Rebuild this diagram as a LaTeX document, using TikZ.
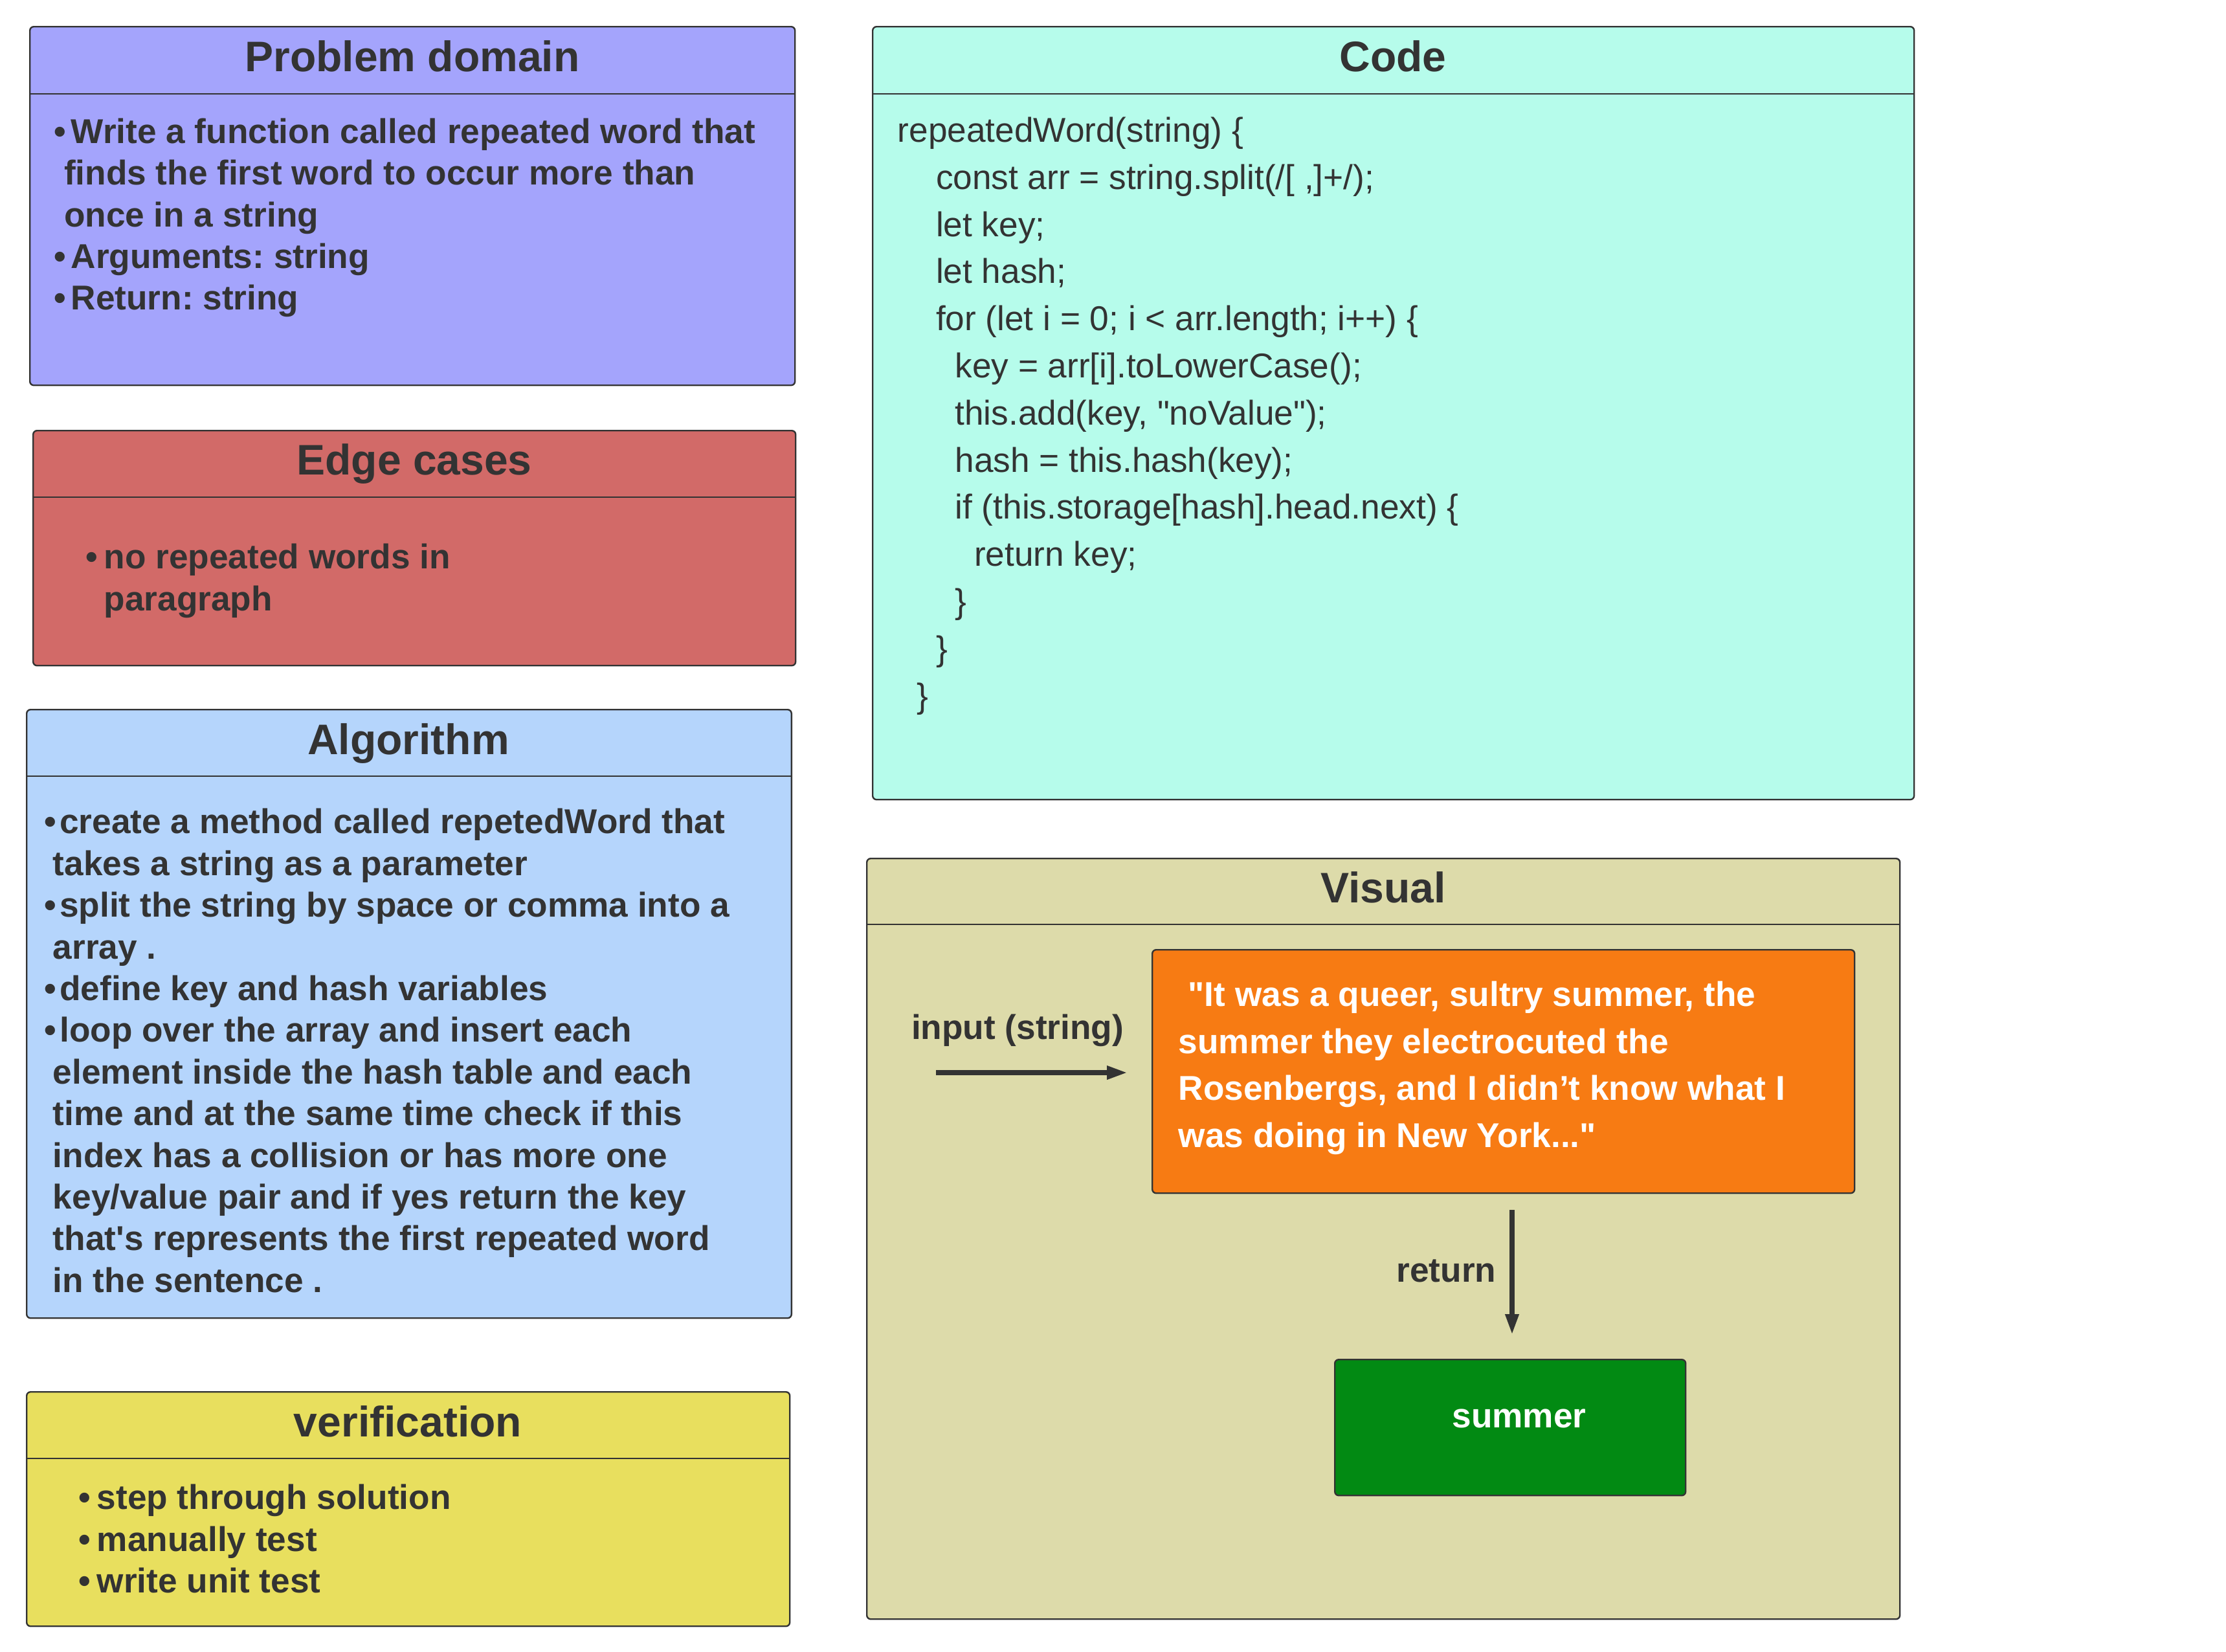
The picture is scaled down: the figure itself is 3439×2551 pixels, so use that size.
\documentclass[tikz,border=0pt]{standalone}
\usepackage{fontspec}
\newfontfamily\lsans{Liberation Sans}
\usetikzlibrary{arrows.meta}
\definecolor{pdfill}{HTML}{A4A4FC}
\definecolor{edfill}{HTML}{D26A68}
\definecolor{alfill}{HTML}{B5D5FC}
\definecolor{vefill}{HTML}{E8DF5E}
\definecolor{cofill}{HTML}{B6FCEB}
\definecolor{vifill}{HTML}{DDDBAA}
\definecolor{orfill}{HTML}{F77B13}
\definecolor{grfill}{HTML}{028A13}
\definecolor{txtc}{HTML}{333333}
\definecolor{linec}{HTML}{333333}
\newcommand\mybul[1][6.5pt]{\makebox[#1][l]{\textbullet}}
\newcommand\mycont[1][3.8pt]{\hspace*{#1}}
\newcommand\spc[1]{\hspace*{#1\dimexpr 3.7pt\relax}}
\frenchspacing
\tikzset{
  panel/.style={draw=linec, line width=0.6pt, rounded corners=1.5pt, anchor=north west, inner sep=0pt},
  hdr/.style={draw=linec, line width=0.7pt},
  ttl/.style={anchor=base, inner sep=0pt, text=txtc, font=\lsans\bfseries\fontsize{16.5}{19.8}\selectfont},
  body/.style={anchor=north west, inner sep=0pt, align=left, text=txtc, font=\lsans\bfseries\fontsize{13.3}{16.1}\selectfont\frenchspacing},
  codetxt/.style={anchor=north west, inner sep=0pt, align=left, text=txtc, font=\lsans\fontsize{13.3}{18.2}\selectfont\frenchspacing},
  lbl/.style={inner sep=0pt, text=txtc, font=\lsans\bfseries\fontsize{13.3}{16.1}\selectfont},
  arr/.style={draw=txtc, line width=1.9pt, -{Triangle[length=8pt,width=4.9pt]}}
}
\begin{document}
\begin{tikzpicture}[x=0.25pt,y=-0.25pt]
\useasboundingbox (0,0) rectangle (3439,2551);
\fill[white] (0,0) rectangle (3439,2551);

% Problem domain
\node[panel, fill=pdfill, minimum width=295.5pt, minimum height=138.5pt] (pd) at (45,40) {};
\draw[hdr] (pd.north west) ++(0,105) -- ++(1182,0);
\node[ttl] (pdt) at (637,110) {Problem domain};
\node[body] (pdb) at (83,175.4) {\strut\mybul Write a function called repeated word that\\
\mycont finds the first word to occur more than\\
\mycont once in a string\\
\mybul Arguments: string\\
\mybul Return: string};

% Edge cases
\node[panel, fill=edfill, minimum width=294.5pt, minimum height=90.75pt] (ed) at (50,664) {};
\draw[hdr] (ed.north west) ++(0,104) -- ++(1178,0);
\node[ttl] (edt) at (640,733) {Edge cases};
\node[body] (edb) at (132,832.8) {\strut\mybul[7pt]no repeated words in\\
\mycont[7pt]paragraph};

% Algorithm
\node[panel, fill=alfill, minimum width=295.4pt, minimum height=235pt] (al) at (40,1095) {};
\draw[hdr] (al.north west) ++(0,104) -- ++(1181.5,0);
\node[ttl] (alt) at (631,1165) {Algorithm};
\node[body] (alb) at (67.5,1241.9) {\strut\mybul[6pt]create a method called repetedWord that\\
\mycont[3.4pt]takes a string as a parameter\\
\mybul[6pt]split the string by space or comma into a\\
\mycont[3.4pt]array .\\
\mybul[6pt]define key and hash variables\\
\mybul[6pt]loop over the array and insert each\\
\mycont[3.4pt]element inside the hash table and each\\
\mycont[3.4pt]time and at the same time check if this\\
\mycont[3.4pt]index has a collision or has more one\\
\mycont[3.4pt]key/value pair and if yes return the key\\
\mycont[3.4pt]that's represents the first repeated word\\
\mycont[3.4pt]in the sentence .};

% verification
\node[panel, fill=vefill, minimum width=294.75pt, minimum height=90.5pt] (ve) at (40,2149) {};
\draw[hdr] (ve.north west) ++(0,104) -- ++(1179,0);
\node[ttl] (vet) at (630,2219) {verification};
\node[body] (veb) at (121,2285.9) {\strut\mybul[7pt]step through solution\\
\mybul[7pt]manually test\\
\mybul[7pt]write unit test};

% Code
\node[panel, fill=cofill, minimum width=402.25pt, minimum height=298.5pt] (co) at (1347,40) {};
\draw[hdr] (co.north west) ++(0,105) -- ++(1609,0);
\node[ttl] (cot) at (2152,110) {Code};
\node[codetxt] (cob) at (1386,167.7) {\strut repeatedWord(string) \{\\
\spc{4}const arr = string.split(/[ ,]+/);\\
\spc{4}let key;\\
\spc{4}let hash;\\
\spc{4}for (let i = 0; i < arr.length; i++) \{\\
\spc{6}key = arr[i].toLowerCase();\\
\spc{6}this.add(key, "noValue");\\
\spc{6}hash = this.hash(key);\\
\spc{6}if (this.storage[hash].head.next) \{\\
\spc{8}return key;\\
\spc{6}\}\\
\spc{4}\}\\
\spc{2}\}};

% Visual
\node[panel, fill=vifill, minimum width=399pt, minimum height=293.75pt] (vi) at (1338,1325) {};
\draw[hdr] (vi.north west) ++(0,103) -- ++(1596,0);
\node[ttl] (vit) at (2137,1394) {Visual};

\node[panel, fill=orfill, minimum width=271.25pt, minimum height=94pt] (or) at (1779,1466) {};
\node[body, text=white, font=\lsans\bfseries\fontsize{13.3}{18.1}\selectfont] (ort) at (1820,1503.3) {\strut\hspace*{3.7pt}"It was a queer, sultry summer, the\\
summer they electrocuted the\\
Rosenbergs, and I didn’t know what I\\
was doing in New York..."};

\node[panel, fill=grfill, minimum width=135.5pt, minimum height=52.5pt] (gr) at (2061,2099) {};
\node[lbl, anchor=base, text=white] (grt) at (2347,2205) {summer};

\coordinate (inA) at (1446,1657);
\draw[arr, shorten >=9.25pt] (inA) -- (or.west |- inA);
\node[lbl, anchor=base] (inl) at (1572,1605) {input (string)};

\draw[arr, shorten <=6.25pt, shorten >=9.25pt] (or.south -| 2336,0) -- (gr.north -| 2336,0);
\node[lbl, anchor=base east] (retl) at (2312,1980) {return};
\end{tikzpicture}
\end{document}
